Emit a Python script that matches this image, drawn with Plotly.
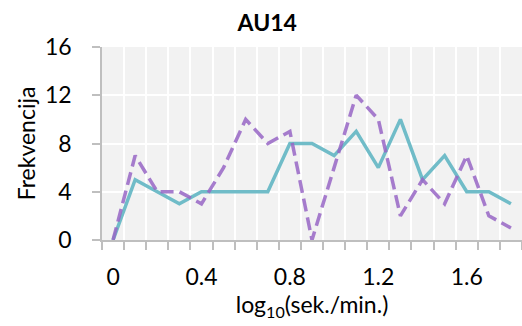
import plotly.graph_objects as go

# log10(sec/min) bins
bins = [0.0, 0.1, 0.2, 0.3, 0.4, 0.5, 0.6, 0.7, 0.8, 0.9,
        1.0, 1.1, 1.2, 1.3, 1.4, 1.5, 1.6, 1.7, 1.8]

# frequency per bin, two series
freq_solid = [0, 5, 4, 3, 4, 4, 4, 4, 8, 8, 7, 9, 6, 10, 5, 7, 4, 4, 3]
freq_dashed = [0, 7, 4, 4, 3, 6, 10, 8, 9, 0, 6, 12, 10, 2, 5, 3, 7, 2, 1]

x_ticks = [0, 0.4, 0.8, 1.2, 1.6]
x_tick_text = ["0", "0.4", "0.8", "1.2", "1.6"]
y_ticks = [0, 4, 8, 12, 16]

FONT = "Lato"
W, H = 522, 326

fig = go.Figure()
fig.add_trace(go.Scatter(
    x=bins, y=freq_solid, mode="lines",
    line=dict(color="rgb(112,188,200)", width=3.5),
    showlegend=False,
))
fig.add_trace(go.Scatter(
    x=bins, y=freq_dashed, mode="lines",
    line=dict(color="rgba(152,102,198,0.85)", width=3.5, dash="13px,6px"),
    showlegend=False,
))

fig.update_layout(
    width=W, height=H,
    margin=dict(l=102, r=0, t=47, b=86),
    paper_bgcolor="white",
    plot_bgcolor="#F2F2F2",
    font=dict(family=FONT, size=23, color="black"),
    title=dict(
        text="<b>AU14</b>",
        font=dict(family=FONT, size=23, color="black"),
        x=0.512, xanchor="center", xref="container",
        y=1 - 23 / H, yanchor="middle", yref="container",
    ),
)

fig.update_xaxes(
    range=[-0.05, 1.85],
    tickmode="array", tickvals=x_ticks, ticktext=x_tick_text,
    ticks="", showgrid=False, zeroline=False,
    showline=True, linecolor="#BFBFBF", linewidth=1.5,
    ticklabelstandoff=16,
    minor=dict(
        tick0=-0.05, dtick=0.1, ticks="outside", ticklen=8,
        tickcolor="#BFBFBF", tickwidth=1.5,
        showgrid=True, gridcolor="white", gridwidth=2,
    ),
    title=dict(text="log<sub>10</sub>(sek./min.)", standoff=8,
               font=dict(family=FONT, size=23)),
)

fig.update_yaxes(
    range=[0, 16],
    tickmode="array", tickvals=y_ticks,
    ticks="outside", ticklen=8, tickcolor="#BFBFBF", tickwidth=1.5,
    showgrid=True, gridcolor="white", gridwidth=2, zeroline=False,
    showline=True, linecolor="#BFBFBF", linewidth=1.5,
    ticklabelstandoff=16,
    title=dict(text="Frekvencija", standoff=3,
               font=dict(family=FONT, size=23)),
)

fig.write_html("out.html")
